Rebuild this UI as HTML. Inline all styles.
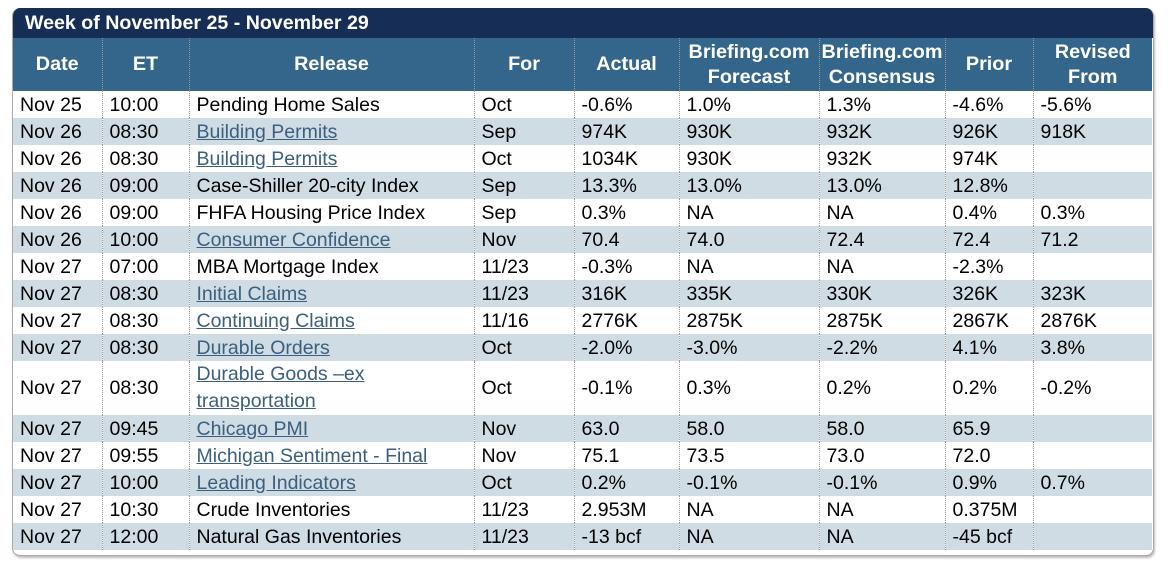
<!DOCTYPE html>
<html><head><meta charset="utf-8"><style>
body{margin:0;width:1173px;height:574px;background:#fff;font-family:"Liberation Sans",Arial,sans-serif;overflow:hidden}
#box{position:absolute;left:12px;top:8px;width:1140px;height:547px;border:1px solid #aaa;border-top:none;border-radius:8px;box-shadow:1px 2px 2px #bbb;overflow:hidden;background:#fff}
#title{height:30px;background:#162d56;color:#fff;font-weight:bold;font-size:19.6px;line-height:31px;padding-left:12px}
table{border-collapse:collapse;width:1139px;table-layout:fixed;font-size:19.5px}
th{background:#34658a;color:#fff;font-weight:bold;font-size:19.8px;height:53px;line-height:25px;text-align:center;border-left:1px dotted #999;padding:0}
td{height:27px;padding:0 0 0 7px;border-left:1px dotted #999;white-space:nowrap;color:#000;line-height:22px;overflow:hidden}
th:first-child,td:first-child{border-left:none}
tr:nth-child(odd) td{background:#d0dce4}
a{color:#3a5f7f;text-decoration:underline}
td.dbl{height:54px}
</style></head><body>
<div id="box">
<div id="title">Week of November 25 - November 29</div>
<table>
<colgroup><col style="width:89px"><col style="width:87px"><col style="width:285px"><col style="width:100px"><col style="width:105px"><col style="width:140px"><col style="width:126px"><col style="width:88px"><col></colgroup>
<tr><th>Date</th><th>ET</th><th>Release</th><th>For</th><th>Actual</th><th>Briefing.com<br>Forecast</th><th>Briefing.com<br>Consensus</th><th>Prior</th><th>Revised<br>From</th></tr>
<tr><td>Nov 25</td><td>10:00</td><td>Pending Home Sales</td><td>Oct</td><td>-0.6%</td><td>1.0%</td><td>1.3%</td><td>-4.6%</td><td>-5.6%</td></tr>
<tr><td>Nov 26</td><td>08:30</td><td><a>Building Permits</a></td><td>Sep</td><td>974K</td><td>930K</td><td>932K</td><td>926K</td><td>918K</td></tr>
<tr><td>Nov 26</td><td>08:30</td><td><a>Building Permits</a></td><td>Oct</td><td>1034K</td><td>930K</td><td>932K</td><td>974K</td><td></td></tr>
<tr><td>Nov 26</td><td>09:00</td><td>Case-Shiller 20-city Index</td><td>Sep</td><td>13.3%</td><td>13.0%</td><td>13.0%</td><td>12.8%</td><td></td></tr>
<tr><td>Nov 26</td><td>09:00</td><td>FHFA Housing Price Index</td><td>Sep</td><td>0.3%</td><td>NA</td><td>NA</td><td>0.4%</td><td>0.3%</td></tr>
<tr><td>Nov 26</td><td>10:00</td><td><a>Consumer Confidence</a></td><td>Nov</td><td>70.4</td><td>74.0</td><td>72.4</td><td>72.4</td><td>71.2</td></tr>
<tr><td>Nov 27</td><td>07:00</td><td>MBA Mortgage Index</td><td>11/23</td><td>-0.3%</td><td>NA</td><td>NA</td><td>-2.3%</td><td></td></tr>
<tr><td>Nov 27</td><td>08:30</td><td><a>Initial Claims</a></td><td>11/23</td><td>316K</td><td>335K</td><td>330K</td><td>326K</td><td>323K</td></tr>
<tr><td>Nov 27</td><td>08:30</td><td><a>Continuing Claims</a></td><td>11/16</td><td>2776K</td><td>2875K</td><td>2875K</td><td>2867K</td><td>2876K</td></tr>
<tr><td>Nov 27</td><td>08:30</td><td><a>Durable Orders</a></td><td>Oct</td><td>-2.0%</td><td>-3.0%</td><td>-2.2%</td><td>4.1%</td><td>3.8%</td></tr>
<tr><td class="dbl">Nov 27</td><td>08:30</td><td style="line-height:27px"><a>Durable Goods –ex<br>transportation</a></td><td>Oct</td><td>-0.1%</td><td>0.3%</td><td>0.2%</td><td>0.2%</td><td>-0.2%</td></tr>
<tr><td>Nov 27</td><td>09:45</td><td><a>Chicago PMI</a></td><td>Nov</td><td>63.0</td><td>58.0</td><td>58.0</td><td>65.9</td><td></td></tr>
<tr><td>Nov 27</td><td>09:55</td><td><a>Michigan Sentiment - Final</a></td><td>Nov</td><td>75.1</td><td>73.5</td><td>73.0</td><td>72.0</td><td></td></tr>
<tr><td>Nov 27</td><td>10:00</td><td><a>Leading Indicators</a></td><td>Oct</td><td>0.2%</td><td>-0.1%</td><td>-0.1%</td><td>0.9%</td><td>0.7%</td></tr>
<tr><td>Nov 27</td><td>10:30</td><td>Crude Inventories</td><td>11/23</td><td>2.953M</td><td>NA</td><td>NA</td><td>0.375M</td><td></td></tr>
<tr><td>Nov 27</td><td>12:00</td><td>Natural Gas Inventories</td><td>11/23</td><td>-13 bcf</td><td>NA</td><td>NA</td><td>-45 bcf</td><td></td></tr>
</table>
</div>
</body></html>
